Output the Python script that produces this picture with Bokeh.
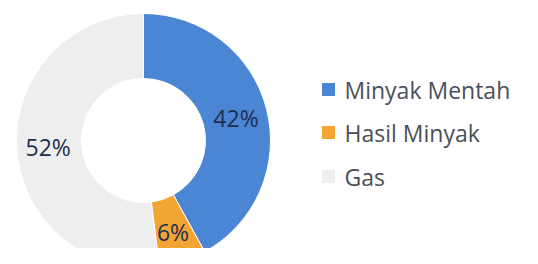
import math
from bokeh.plotting import figure
from bokeh.models import Range1d, ColumnDataSource
from bokeh.core.properties import value
from bokeh.embed import file_html
from bokeh.resources import INLINE

categories = ["Minyak Mentah", "Hasil Minyak", "Gas"]
shares = [42, 6, 52]
labels = ["42%", "6%", "52%"]
colors = ["#4a86d4", "#f2a534", "#eeeeee"]

W, H = 522, 248
# data coordinates = picture pixels, y measured upward from the picture bottom (264)
p = figure(width=W, height=H, output_backend="svg", toolbar_location=None,
           x_range=Range1d(0, W), y_range=Range1d(264 - H, 264),
           min_border=0, outline_line_color=None)
p.axis.visible = False
p.grid.visible = False
p.background_fill_color = "white"

cx, cy = 143, 264 - 140
r_out, r_in = 127, 62

total = sum(shares)
starts, ends, lx, ly = [], [], [], []
cum = 0
for s in shares:
    a0 = math.pi / 2 - 2 * math.pi * cum / total
    a1 = math.pi / 2 - 2 * math.pi * (cum + s) / total
    starts.append(a0)
    ends.append(a1)
    mid = (a0 + a1) / 2
    rm = (r_out + r_in) / 2 + 1
    lx.append(cx + rm * math.cos(mid))
    ly.append(cy + rm * math.sin(mid) - 1)
    cum += s

src = ColumnDataSource(dict(start=starts, end=ends, color=colors,
                            lx=lx, ly=ly, label=labels, cat=categories))
p.annular_wedge(x=cx, y=cy, inner_radius=r_in, outer_radius=r_out,
                start_angle="start", end_angle="end", direction="clock",
                fill_color="color", line_color="white", line_width=1, source=src)

p.text(x="lx", y="ly", text="label", source=src, text_align="center",
       text_baseline="middle", text_font=value("Open Sans"),
       text_font_size="23px", text_color="#1f2f4f")

# legend
leg_y = [264 - 89, 264 - 132, 264 - 176]
leg_src = ColumnDataSource(dict(y=leg_y, color=colors, cat=categories))
p.scatter(x=328, y="y", marker="square", size=13, fill_color="color",
          line_color=None, source=leg_src)
p.text(x=344, y="y", text="cat", source=leg_src, text_align="left",
       text_baseline="middle", text_font=value("Open Sans"),
       text_font_size="23px", text_color="#4a4f5a")

open("out.html", "w").write(file_html(p, INLINE))
